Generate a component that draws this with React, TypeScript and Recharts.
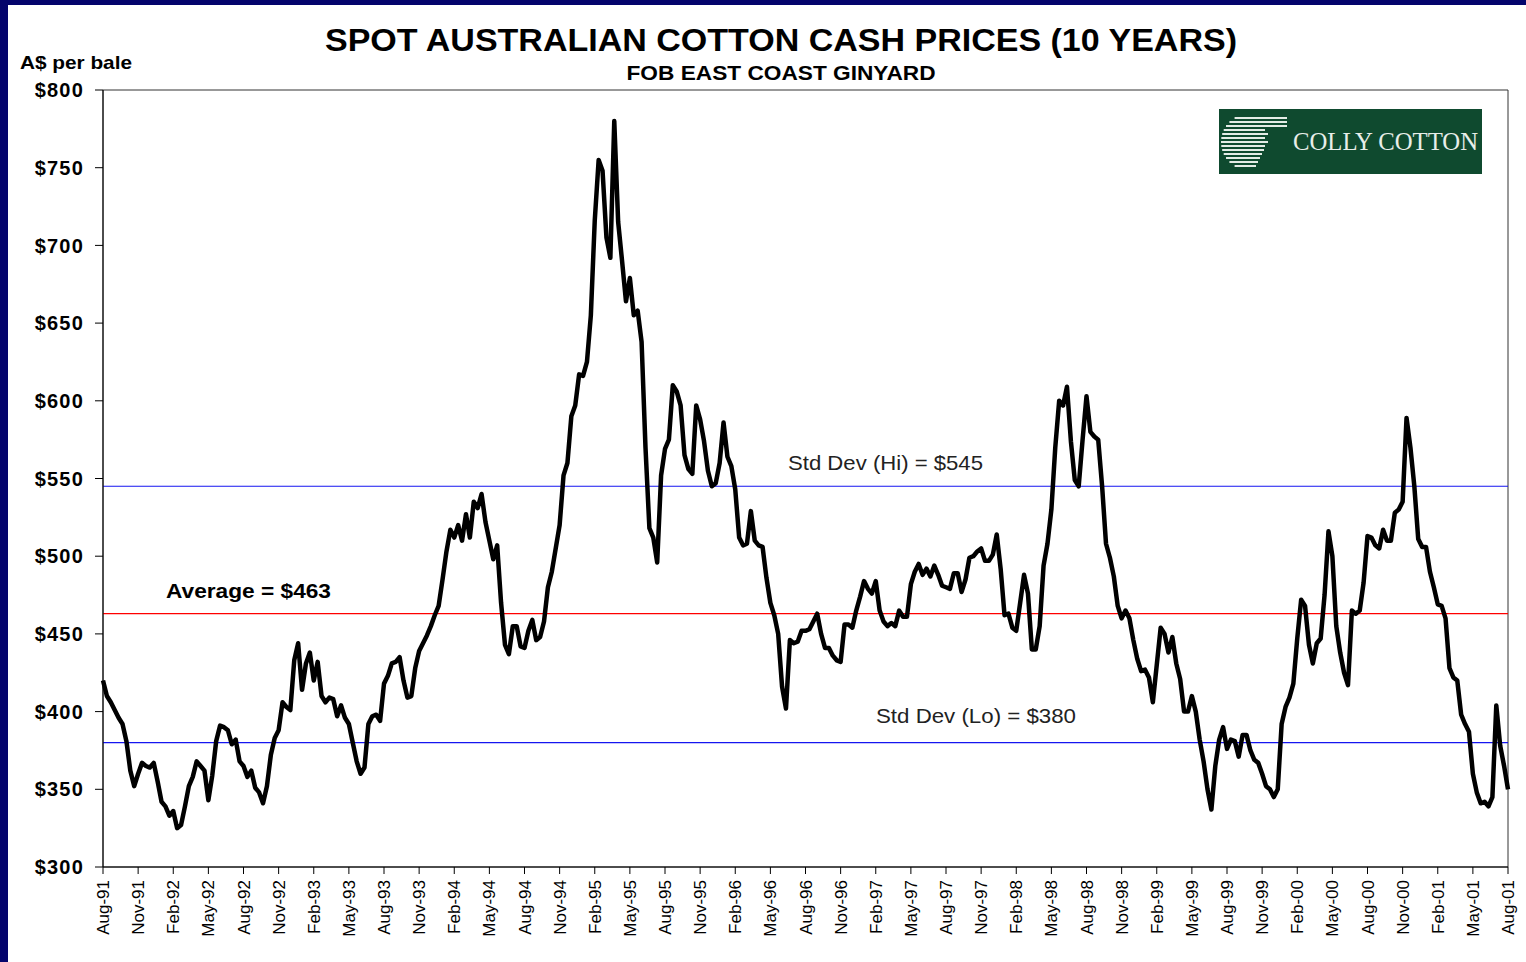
import { LineChart, Line, XAxis, YAxis, ReferenceLine, ReferenceArea } from 'recharts';

// quarterly tick labels, Aug-91 .. Aug-01
const quarterLabels = [
  'Aug-91', 'Nov-91', 'Feb-92', 'May-92', 'Aug-92', 'Nov-92', 'Feb-93', 'May-93', 'Aug-93', 'Nov-93',
  'Feb-94', 'May-94', 'Aug-94', 'Nov-94', 'Feb-95', 'May-95', 'Aug-95', 'Nov-95', 'Feb-96', 'May-96',
  'Aug-96', 'Nov-96', 'Feb-97', 'May-97', 'Aug-97', 'Nov-97', 'Feb-98', 'May-98', 'Aug-98', 'Nov-98',
  'Feb-99', 'May-99', 'Aug-99', 'Nov-99', 'Feb-00', 'May-00', 'Aug-00', 'Nov-00', 'Feb-01', 'May-01',
  'Aug-01'
];

const priceTicks = [300, 350, 400, 450, 500, 550, 600, 650, 700, 750, 800];

// spot price, A$ per bale, three readings per month
const prices1991to93 = [
  420, 410, 406, 401, 396, 392, 381, 362, 352, 360,
  367, 365, 364, 367, 355, 342, 339, 333, 336, 325,
  327, 339, 352, 358, 368, 365, 362, 343, 359, 381,
  391, 390, 388, 379, 382, 368, 365, 358, 362, 351,
  348, 341, 352, 372, 383, 388, 406, 403, 401, 433,
  444, 414, 431, 438, 420, 432, 410, 406, 409, 408,
  397, 404, 396, 392, 380, 368, 360, 364, 392, 397,
  398, 394, 418, 423, 431, 432, 435, 420, 409, 410,
  428, 439, 444, 449, 455, 462, 468, 485, 503
];

const prices1994to95 = [
  517, 512, 520, 510, 527, 512, 535, 531, 540, 522,
  510, 498, 507, 470, 443, 437, 455, 455, 442, 441,
  452, 459, 446, 448, 458, 480, 490, 505, 520, 552,
  560, 590, 597, 617, 616, 625, 655, 716, 755, 748,
  705, 692, 780, 715, 690, 664, 679, 655, 658, 638,
  570, 518, 512, 496, 552, 569, 575, 610, 606, 597,
  565, 556, 553, 597, 588
];

const prices1996to97 = [
  574, 555, 545, 547, 560, 586, 564, 558, 543, 512,
  507, 508, 529, 510, 507, 506, 486, 470, 462, 450,
  416, 402, 446, 444, 445, 452, 452, 453, 458, 463,
  450, 441, 441, 436, 433, 432, 456, 456, 454, 465,
  474, 484, 479, 476, 484, 465, 458, 455, 457, 455,
  465, 461, 461, 482, 490, 495, 488, 492, 487, 494,
  488, 481, 480, 479, 489, 489, 477, 485, 499
];

const prices1998to99 = [
  500, 503, 505, 497, 497, 501, 514, 492, 462, 463,
  454, 452, 470, 488, 476, 440, 440, 455, 494, 508,
  530, 570, 600, 597, 609, 574, 549, 545, 575, 603,
  580, 577, 575, 545, 508, 499, 487, 468, 460, 465,
  460, 446, 434, 426, 427, 422, 406, 430, 454, 450,
  438, 448, 431, 421, 400, 400, 410, 400, 382, 368,
  350, 337, 365, 382
];

const prices2000to01 = [
  390, 376, 382, 381, 371, 385, 385, 375, 369, 367,
  360, 352, 350, 345, 350, 392, 403, 409, 418, 447,
  472, 468, 443, 431, 444, 447, 475, 516, 500, 455,
  438, 425, 417, 465, 463, 465, 483, 513, 512, 507,
  505, 517, 510, 510, 528, 530, 535, 589, 570, 545,
  511, 506, 506, 490, 480, 469, 468, 460, 428, 422,
  420, 398, 392, 387, 360, 348, 341, 342, 339, 345,
  404, 378, 365, 350
];

const averagePrice = 463;
const stdDevHigh = 545;
const stdDevLow = 380;

const allPrices = [
  ...prices1991to93,
  ...prices1994to95,
  ...prices1996to97,
  ...prices1998to99,
  ...prices2000to01
];

const data = allPrices.map((price, i) => ({ month: i / 3, price }));
const quarterTicks = quarterLabels.map((_, i) => i * 3);

const SANS = "'Liberation Sans', Arial, Helvetica, sans-serif";

function MonthTick({ x, y, payload }: any) {
  const label = quarterLabels[Math.round(payload.value / 3)];
  return (
    <text
      transform={`translate(${x + 6},${y}) rotate(-90)`}
      textAnchor='end'
      fontSize={17}
      fontFamily={SANS}
      fill='#000'
    >
      {label}
    </text>
  );
}

function LineLabel({ viewBox, text, offsetX, lift, bold, width }: any) {
  if (!viewBox) return null;
  return (
    <text
      x={viewBox.x + offsetX}
      y={viewBox.y - lift}
      fontSize={21}
      fontFamily={SANS}
      fontWeight={bold ? 'bold' : 'normal'}
      fill={bold ? '#000' : '#222'}
      textLength={width}
      lengthAdjust='spacingAndGlyphs'
    >
      {text}
    </text>
  );
}

function Logo() {
  // striped "C" emblem of the Colly Cotton badge
  const stripes = [];
  for (let i = 0; i < 13; i++) {
    const y = 118 + i * 4;
    const dy = y - 142;
    const left = 1249 - Math.sqrt(Math.max(0, 28 * 28 - dy * dy));
    const right = i < 3 ? 1287 : i < 8 ? 1268 - (i % 2) * 3 : 1264 - (i - 8) * 2;
    stripes.push(
      <line key={i} x1={left} x2={right} y1={y} y2={y} stroke='#e4ece6' strokeWidth={2} />
    );
  }
  return (
    <g>
      <rect x={1219} y={109} width={263} height={65} fill='#0f4a2f' />
      {stripes}
      <text
        x={1293}
        y={150}
        fontSize={25}
        fontFamily="'Liberation Serif', 'Times New Roman', serif"
        fill='#e8eee9'
        textLength={185}
        lengthAdjust='spacingAndGlyphs'
      >
        COLLY COTTON
      </text>
    </g>
  );
}

function App() {
  return (
    <div style={{ position: 'absolute', left: 0, top: 0, width: 1526, height: 962, background: '#04046c', overflow: 'hidden' }}>
      <div style={{ position: 'absolute', left: 8, top: 5, width: 1518, height: 957, background: '#fff' }} />
      <div style={{ position: 'absolute', left: 0, top: 0 }}>
        <LineChart
          width={1526}
          height={962}
          data={data}
          margin={{ top: 90, right: 18, bottom: 0, left: 8 }}
        >
          <ReferenceArea
            x1={0}
            x2={120}
            y1={300}
            y2={800}
            fill='none'
            fillOpacity={0}
            stroke='#333'
            strokeWidth={1}
          />
          <XAxis
            dataKey='month'
            type='number'
            domain={[0, 120]}
            ticks={quarterTicks}
            interval={0}
            height={95}
            tickSize={7}
            tickMargin={6}
            axisLine={{ stroke: '#000' }}
            tickLine={{ stroke: '#000' }}
            tick={<MonthTick />}
          />
          <YAxis
            type='number'
            domain={[300, 800]}
            ticks={priceTicks}
            interval={0}
            width={95}
            tickSize={8}
            tickMargin={11}
            axisLine={{ stroke: '#000' }}
            tickLine={{ stroke: '#000' }}
            tickFormatter={(v: number) => `$${v}`}
            tick={{ fontSize: 20, fontWeight: 'bold', fontFamily: SANS, fill: '#000', letterSpacing: 1.2 }}
          />
          <ReferenceLine
            y={stdDevHigh}
            stroke='#1515f0'
            strokeWidth={1.2}
            label={<LineLabel text='Std Dev (Hi) = $545' offsetX={685} lift={16} width={195} />}
          />
          <ReferenceLine
            y={averagePrice}
            stroke='#ff0000'
            strokeWidth={1.2}
            label={<LineLabel text='Average = $463' offsetX={63} lift={16} width={165} bold />}
          />
          <ReferenceLine
            y={stdDevLow}
            stroke='#1515f0'
            strokeWidth={1.2}
            label={<LineLabel text='Std Dev (Lo) = $380' offsetX={773} lift={20} width={200} />}
          />
          <Line
            type='linear'
            dataKey='price'
            stroke='#000'
            strokeWidth={4.5}
            strokeLinejoin='round'
            dot={false}
            activeDot={false}
            isAnimationActive={false}
          />
        </LineChart>
      </div>
      <svg
        width={1526}
        height={962}
        style={{ position: 'absolute', left: 0, top: 0, pointerEvents: 'none' }}
      >
        <text
          x={781}
          y={51}
          textAnchor='middle'
          fontSize={31}
          fontWeight='bold'
          fontFamily={SANS}
          textLength={912}
          lengthAdjust='spacingAndGlyphs'
        >
          SPOT AUSTRALIAN COTTON CASH PRICES (10 YEARS)
        </text>
        <text
          x={781}
          y={80}
          textAnchor='middle'
          fontSize={21}
          fontWeight='bold'
          fontFamily={SANS}
          textLength={309}
          lengthAdjust='spacingAndGlyphs'
        >
          FOB EAST COAST GINYARD
        </text>
        <text
          x={20}
          y={69}
          fontSize={19}
          fontWeight='bold'
          fontFamily={SANS}
          textLength={112}
          lengthAdjust='spacingAndGlyphs'
        >
          A$ per bale
        </text>
        <Logo />
      </svg>
    </div>
  );
}

export default App;
